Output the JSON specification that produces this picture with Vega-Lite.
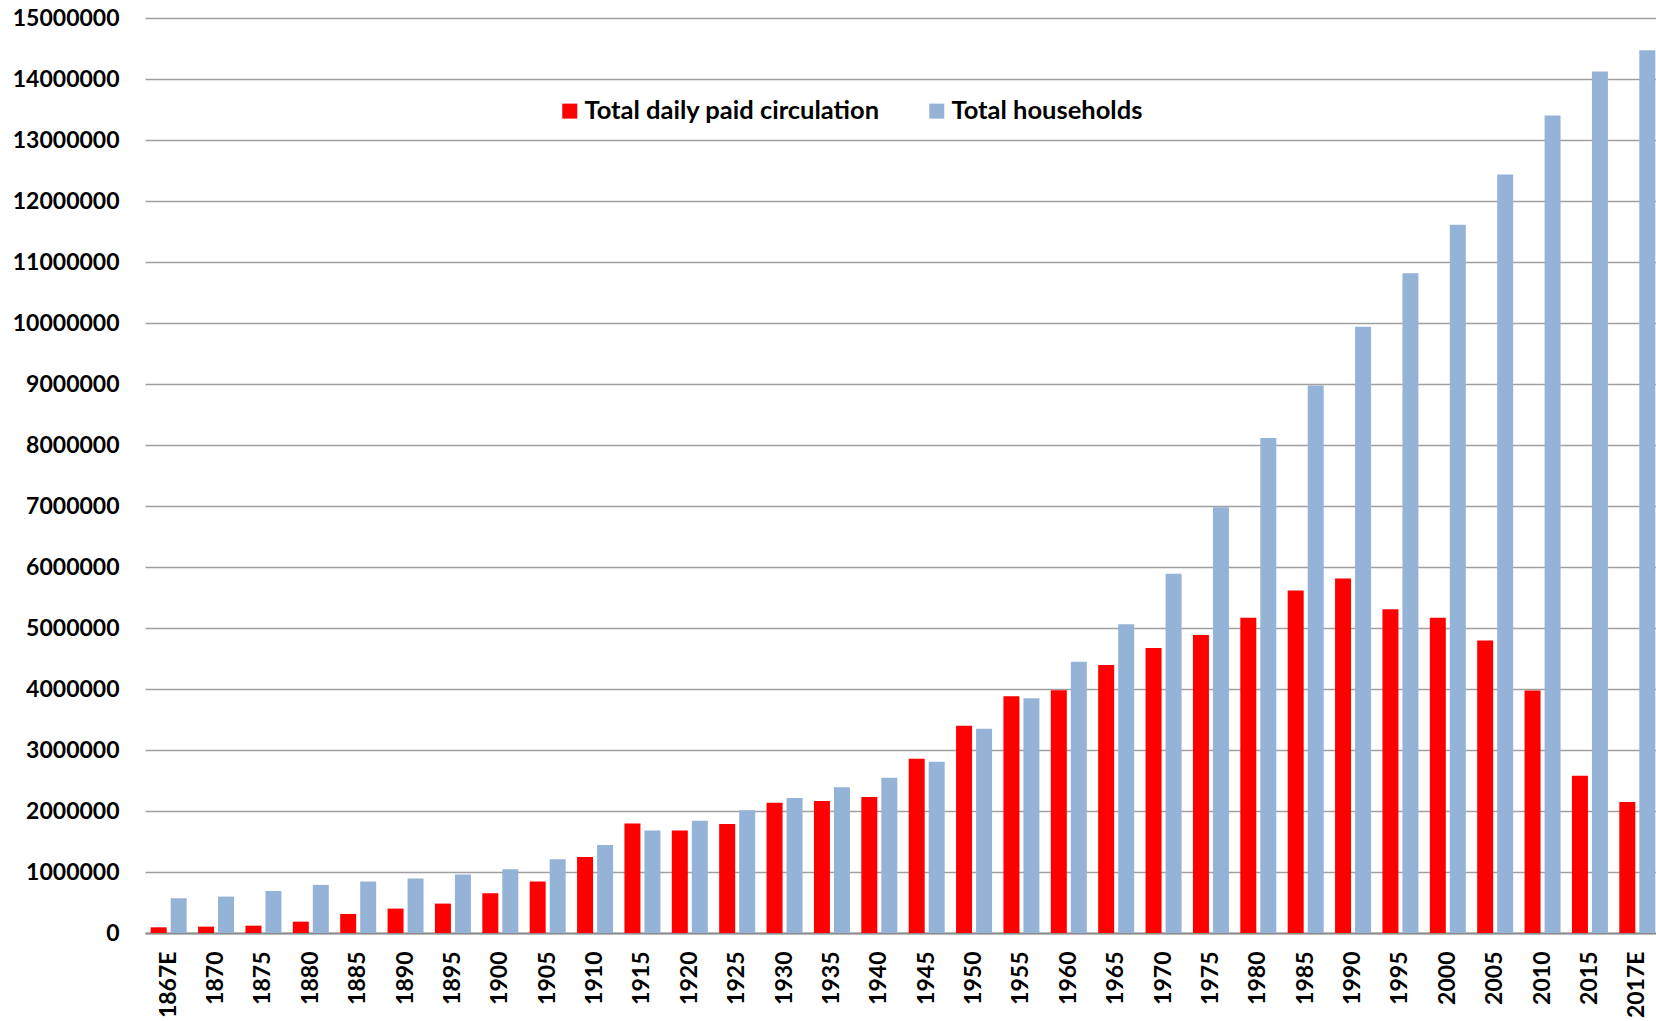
{
  "$schema": "https://vega.github.io/schema/vega-lite/v6.json",
  "autosize": {"type": "none"},
  "padding": {"left": 145, "top": 18, "right": 0, "bottom": 88},
  "width": 1511,
  "height": 915,
  "background": "white",
  "config": {
    "view": {"stroke": null},
    "font": "Lato"
  },
  "data": {
    "values": [
      {"year": "1867E", "series": "Total daily paid circulation", "value": 93000},
      {"year": "1867E", "series": "Total households", "value": 570000},
      {"year": "1870", "series": "Total daily paid circulation", "value": 104000},
      {"year": "1870", "series": "Total households", "value": 597000},
      {"year": "1875", "series": "Total daily paid circulation", "value": 120000},
      {"year": "1875", "series": "Total households", "value": 690000},
      {"year": "1880", "series": "Total daily paid circulation", "value": 186000},
      {"year": "1880", "series": "Total households", "value": 789000},
      {"year": "1885", "series": "Total daily paid circulation", "value": 312000},
      {"year": "1885", "series": "Total households", "value": 844000},
      {"year": "1890", "series": "Total daily paid circulation", "value": 400000},
      {"year": "1890", "series": "Total households", "value": 893000},
      {"year": "1895", "series": "Total daily paid circulation", "value": 482000},
      {"year": "1895", "series": "Total households", "value": 959000},
      {"year": "1900", "series": "Total daily paid circulation", "value": 652000},
      {"year": "1900", "series": "Total households", "value": 1047000},
      {"year": "1905", "series": "Total daily paid circulation", "value": 844000},
      {"year": "1905", "series": "Total households", "value": 1211000},
      {"year": "1910", "series": "Total daily paid circulation", "value": 1244000},
      {"year": "1910", "series": "Total households", "value": 1441000},
      {"year": "1915", "series": "Total daily paid circulation", "value": 1797000},
      {"year": "1915", "series": "Total households", "value": 1682000},
      {"year": "1920", "series": "Total daily paid circulation", "value": 1680000},
      {"year": "1920", "series": "Total households", "value": 1842000},
      {"year": "1925", "series": "Total daily paid circulation", "value": 1787000},
      {"year": "1925", "series": "Total households", "value": 2011000},
      {"year": "1930", "series": "Total daily paid circulation", "value": 2137000},
      {"year": "1930", "series": "Total households", "value": 2213000},
      {"year": "1935", "series": "Total daily paid circulation", "value": 2164000},
      {"year": "1935", "series": "Total households", "value": 2388000},
      {"year": "1940", "series": "Total daily paid circulation", "value": 2230000},
      {"year": "1940", "series": "Total households", "value": 2546000},
      {"year": "1945", "series": "Total daily paid circulation", "value": 2858000},
      {"year": "1945", "series": "Total households", "value": 2809000},
      {"year": "1950", "series": "Total daily paid circulation", "value": 3399000},
      {"year": "1950", "series": "Total households", "value": 3350000},
      {"year": "1955", "series": "Total daily paid circulation", "value": 3880000},
      {"year": "1955", "series": "Total households", "value": 3847000},
      {"year": "1960", "series": "Total daily paid circulation", "value": 3978000},
      {"year": "1960", "series": "Total households", "value": 4448000},
      {"year": "1965", "series": "Total daily paid circulation", "value": 4393000},
      {"year": "1965", "series": "Total households", "value": 5060000},
      {"year": "1970", "series": "Total daily paid circulation", "value": 4672000},
      {"year": "1970", "series": "Total households", "value": 5890000},
      {"year": "1975", "series": "Total daily paid circulation", "value": 4885000},
      {"year": "1975", "series": "Total households", "value": 6980000},
      {"year": "1980", "series": "Total daily paid circulation", "value": 5167000},
      {"year": "1980", "series": "Total households", "value": 8116000},
      {"year": "1985", "series": "Total daily paid circulation", "value": 5614000},
      {"year": "1985", "series": "Total households", "value": 8975000},
      {"year": "1990", "series": "Total daily paid circulation", "value": 5811000},
      {"year": "1990", "series": "Total households", "value": 9937000},
      {"year": "1995", "series": "Total daily paid circulation", "value": 5309000},
      {"year": "1995", "series": "Total households", "value": 10817000},
      {"year": "2000", "series": "Total daily paid circulation", "value": 5167000},
      {"year": "2000", "series": "Total households", "value": 11610000},
      {"year": "2005", "series": "Total daily paid circulation", "value": 4795000},
      {"year": "2005", "series": "Total households", "value": 12436000},
      {"year": "2010", "series": "Total daily paid circulation", "value": 3976000},
      {"year": "2010", "series": "Total households", "value": 13403000},
      {"year": "2015", "series": "Total daily paid circulation", "value": 2578000},
      {"year": "2015", "series": "Total households", "value": 14125000},
      {"year": "2017E", "series": "Total daily paid circulation", "value": 2146000},
      {"year": "2017E", "series": "Total households", "value": 14470000}
    ]
  },
  "mark": {"type": "bar"},
  "encoding": {
    "x": {
      "field": "year",
      "type": "nominal",
      "sort": null,
      "title": null,
      "scale": {"range": [0, 1516], "paddingInner": 0.24, "paddingOuter": 0.12},
      "axis": {
        "labelAngle": -90,
        "labelFont": "Lato",
        "labelFontWeight": "bold",
        "labelFontSize": 23,
        "labelColor": "#000000",
        "labelPadding": 18,
        "labelOverlap": false,
        "ticks": false,
        "tickSize": 0,
        "domainColor": "#8c8c8c",
        "domainWidth": 2,
        "grid": false
      }
    },
    "xOffset": {
      "field": "series",
      "type": "nominal",
      "sort": ["Total daily paid circulation", "Total households"],
      "scale": {"paddingInner": 0.2, "paddingOuter": 0}
    },
    "y": {
      "field": "value",
      "type": "quantitative",
      "title": null,
      "scale": {"domain": [0, 15000000], "nice": false},
      "axis": {
        "values": [0, 1000000, 2000000, 3000000, 4000000, 5000000, 6000000, 7000000, 8000000, 9000000, 10000000, 11000000, 12000000, 13000000, 14000000, 15000000],
        "format": "d",
        "labelFont": "Lato",
        "labelFontWeight": "bold",
        "labelFontSize": 23,
        "labelColor": "#000000",
        "labelPadding": 26,
        "ticks": false,
        "tickSize": 0,
        "domain": false,
        "grid": true,
        "gridColor": "#a0a0a0",
        "gridWidth": 1.5
      }
    },
    "color": {
      "field": "series",
      "type": "nominal",
      "title": null,
      "scale": {
        "domain": ["Total daily paid circulation", "Total households"],
        "range": ["#ff0000", "#95b3d7"]
      },
      "legend": {
        "orient": "none",
        "direction": "horizontal",
        "legendX": 412,
        "legendY": 80,
        "padding": 0,
        "symbolType": "square",
        "symbolSize": 225,
        "symbolStrokeWidth": 0,
        "symbolOpacity": 1,
        "labelFont": "Lato",
        "labelFontWeight": "bold",
        "labelFontSize": 25.5,
        "labelColor": "#000000",
        "labelOffset": 2,
        "labelLimit": 0,
        "columnPadding": 44
      }
    }
  }
}
